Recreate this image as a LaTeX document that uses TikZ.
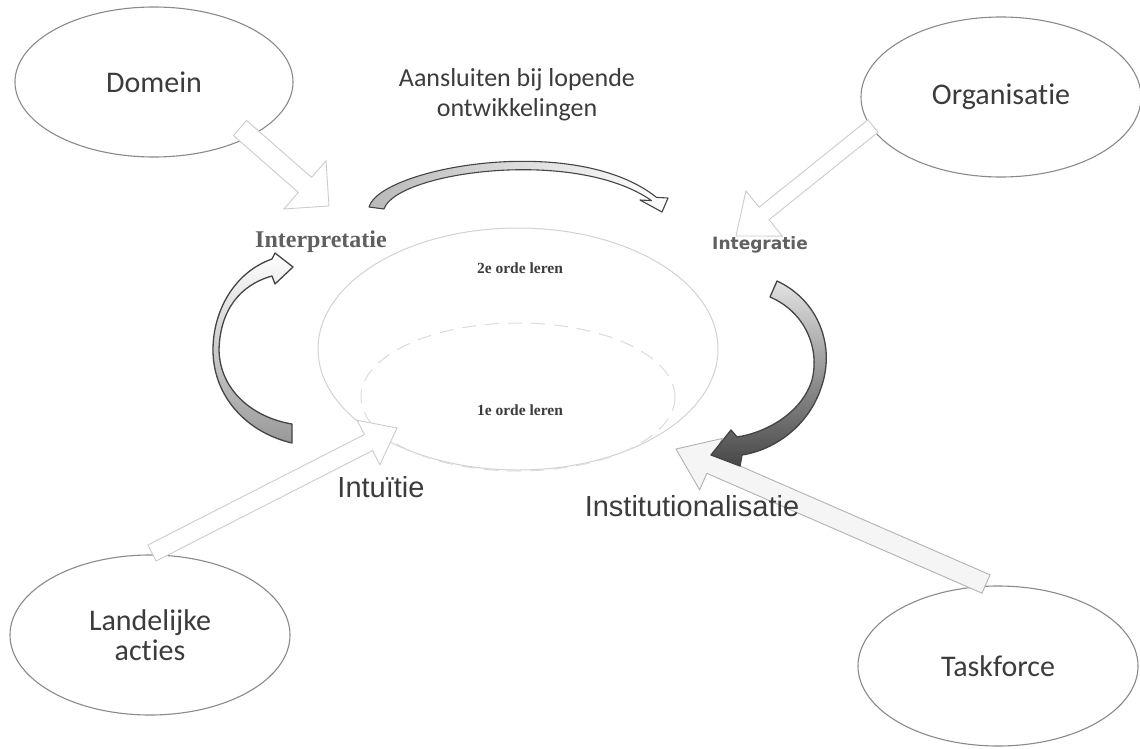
\documentclass[tikz,border=0pt]{standalone}
\usepackage{fontspec}
\setmainfont{Carlito}[Ligatures=NoCommon]
\newfontfamily\arialf{Liberation Sans}
\newfontfamily\timesf{Liberation Serif}
\newfontfamily\verdf{DejaVu Sans}
\usetikzlibrary{shapes.geometric,calc}

\definecolor{txt}{HTML}{3C3C3C}
\definecolor{rim}{HTML}{8A8A8A}
\definecolor{darkrim}{HTML}{444444}

% straight block arrow: style, tail, tip, shaft half width, head half width, head length
\newcommand\blockarrow[6]{%
  \path ($(#3)!#6!(#2)$) coordinate (ba-base);
  \draw[#1] ($(#2)!#4!90:(#3)$) -- ($(ba-base)!#4!-90:(#2)$)
    -- ($(ba-base)!#5!-90:(#2)$) -- (#3) -- ($(ba-base)!#5!90:(#2)$)
    -- ($(ba-base)!#4!90:(#2)$) -- ($(#2)!#4!-90:(#3)$) -- cycle;
}

\tikzset{
  actor/.style={ellipse, draw=rim, line width=1.1pt, fill=white, inner sep=0pt,
    minimum width=280pt, minimum height=160pt, text=txt,
    font=\fontsize{30}{32}\selectfont, align=center},
  hollow/.style={draw=gray!40, line width=0.9pt, fill=white, line join=miter},
  shadowed/.style={draw=gray!60, line width=0.9pt, fill=gray!8, line join=miter},
  ribbon/.style={draw=darkrim, line width=1.3pt, line join=round},
  phase/.style={text=txt, inner sep=0pt},
}

\begin{document}
\begin{tikzpicture}[x=1pt, y=-1pt]
\useasboundingbox[fill=white] (0,0) rectangle (1140,749);

% the four surrounding actors
\node[actor, minimum width=278pt, minimum height=150pt] (domein) at (154,82) {Domein};
\node[actor] (organisatie) at (1001,97) {Organisatie};
\node[actor] (landelijk) at (150,635) {Landelijke\\[-2pt]acties};
\node[actor] (taskforce) at (998,666) {Taskforce};

% central learning ellipse with the inner (first order) layer
\node[ellipse, draw=gray!35, line width=1pt, minimum width=400pt, minimum height=242pt,
      inner sep=0pt] (kern) at (518,349) {};
\draw[gray!28, line width=1pt, dash pattern=on 14pt off 9pt]
  (518,397) ellipse [x radius=157, y radius=74];

% ends of the block arrows
\coordinate (domein-out) at (240,128);
\coordinate (domein-in)  at (329,206);
\coordinate (org-out)    at (873,126);
\coordinate (org-in)     at (736,236);
\coordinate (land-out)   at (152,553);
\coordinate (land-in)    at (397,428);
\coordinate (task-out)   at (986,584);
\coordinate (task-in)    at (676,449);

\blockarrow{hollow}{domein-out}{domein-in}{10pt}{32pt}{32pt}
\blockarrow{hollow}{org-out}{org-in}{8pt}{29pt}{36pt}
\blockarrow{hollow}{land-out}{land-in}{9pt}{25pt}{32pt}
\blockarrow{shadowed}{task-out}{task-in}{10pt}{28pt}{38pt}

% curved arrows of the learning cycle
% top: interpretatie -> integratie
\draw[ribbon, line width=1.1pt, left color=gray!55, middle color=white, right color=white]
  (369,207) .. controls (380,168) and (575,132) .. (656.5,197.4)
  -- (668,198) -- (662,212) -- (640,200) -- (651.5,200.6)
  .. controls (575,147) and (396,172) .. (384,209) -- cycle;

% left: intuitie -> interpretatie
\draw[ribbon, top color=white, middle color=white, bottom color=gray!80]
  (293,267) -- (275,253) -- (272,259)
  .. controls (235,272) and (213,310) .. (213,350)
  .. controls (213,395) and (245,432) .. (292,443)
  -- (292,424)
  .. controls (255,418) and (220,392) .. (219,350)
  .. controls (220,310) and (240,285) .. (272,276)
  -- (275,284) -- cycle;

% right: integratie -> institutionalisatie
\draw[ribbon, top color=gray!22, middle color=gray!40, bottom color=black!72]
  (777,281) .. controls (818,300) and (835,345) .. (822,385)
  .. controls (810,425) and (775,450) .. (742,455)
  -- (740,466) -- (711,455) -- (731,430) -- (737,437)
  .. controls (770,432) and (803,410) .. (812,380)
  .. controls (820,348) and (805,312) .. (770,297) -- cycle;

% learning levels
\node[phase, font=\timesf\bfseries\fontsize{15.5}{17}\selectfont] (orde2) at (520,268) {2e orde leren};
\node[phase, font=\timesf\bfseries\fontsize{15.5}{17}\selectfont] (orde1) at (520,410) {1e orde leren};

% phase labels
\node[phase, text=gray!75!black, font=\timesf\bfseries\fontsize{24}{26}\selectfont] (interp) at (321,242) {Interpretatie};
\node[phase, text=gray!75!black, font=\verdf\bfseries\fontsize{17}{19}\selectfont] (integr) at (760,245) {Integratie};
\node[phase, font=\arialf\fontsize{29}{31}\selectfont] (intuit) at (381,487) {Intuïtie};
\node[phase, font=\arialf\fontsize{29}{31}\selectfont] (instit) at (692,506) {Institutionalisatie};
\node[phase, align=center, font=\fontsize{26}{30}\selectfont] (aansl) at (517,95)
  {Aansluiten bij lopende\\ontwikkelingen};
\end{tikzpicture}
\end{document}
